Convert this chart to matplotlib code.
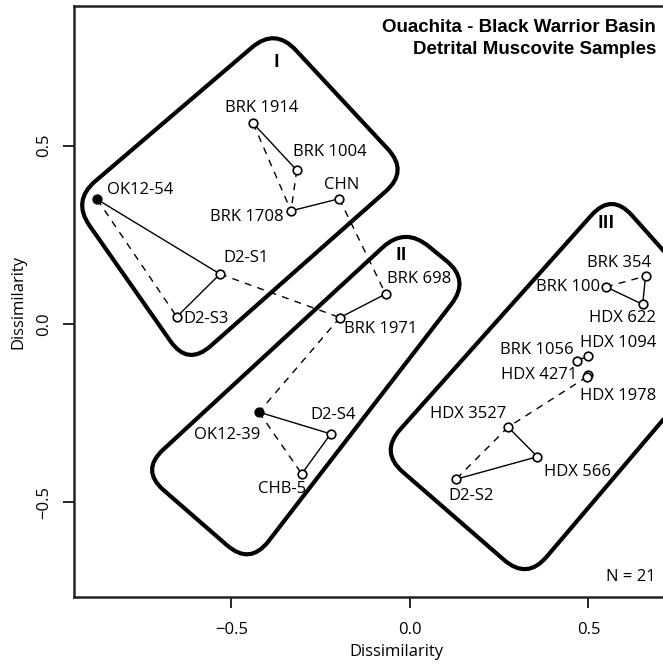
import numpy as np
import matplotlib.pyplot as plt
from matplotlib.path import Path
from matplotlib.patches import PathPatch

plt.rcParams['font.family'] = ['Open Sans', 'DejaVu Sans']

# MDS coordinates of the detrital muscovite samples
samples = ["OK12-54", "D2-S1", "D2-S3", "BRK 1914", "BRK 1004", "BRK 1708",
           "CHN", "BRK 698", "BRK 1971", "OK12-39", "D2-S4", "CHB-5",
           "BRK 354", "BRK 100", "HDX 622", "BRK 1056", "HDX 1094",
           "HDX 4271", "HDX 1978", "HDX 3527", "HDX 566", "D2-S2"]
dim1 = [-0.876, -0.532, -0.653, -0.439, -0.317, -0.333,
        -0.198, -0.068, -0.196, -0.423, -0.222, -0.303,
        0.660, 0.549, 0.652, 0.467, 0.499,
        0.499, 0.496, 0.275, 0.357, 0.129]
dim2 = [0.349, 0.140, 0.020, 0.562, 0.431, 0.317,
        0.351, 0.084, 0.018, -0.247, -0.308, -0.420,
        0.134, 0.104, 0.055, -0.103, -0.090,
        -0.143, -0.148, -0.289, -0.372, -0.435]
filled = ["OK12-54", "OK12-39"]

# nearest neighbours (solid) and second nearest neighbours (dashed)
nearest = [("OK12-54", "D2-S1"), ("D2-S1", "D2-S3"), ("BRK 1914", "BRK 1004"),
           ("BRK 1708", "CHN"), ("BRK 698", "BRK 1971"), ("OK12-39", "D2-S4"),
           ("D2-S4", "CHB-5"), ("BRK 100", "HDX 622"), ("HDX 622", "BRK 354"),
           ("BRK 1056", "HDX 1094"), ("HDX 4271", "HDX 1978"),
           ("HDX 3527", "HDX 566"), ("HDX 566", "D2-S2")]
second = [("OK12-54", "D2-S3"), ("BRK 1914", "BRK 1708"), ("BRK 1004", "BRK 1708"),
          ("CHN", "BRK 698"), ("D2-S1", "BRK 1971"), ("BRK 1971", "OK12-39"),
          ("OK12-39", "CHB-5"), ("BRK 100", "BRK 354"), ("HDX 1978", "HDX 3527"),
          ("HDX 3527", "D2-S2")]

# group outlines (corner points before rounding)
group_names = ["I", "II", "III"]
group_corners = [
    [(-0.378, 0.830), (-0.004, 0.428), (-0.622, -0.118), (-0.946, 0.345)],
    [(-0.014, 0.272), (0.168, 0.123), (-0.448, -0.676), (-0.754, -0.410)],
    [(0.565, 0.368), (0.916, -0.025), (0.328, -0.717), (-0.084, -0.359)],
]
group_label_xy = [(-0.375, 0.735), (-0.023, 0.193), (0.549, 0.282)]

# label offsets in pixels (text centre relative to the point)
label_offset = {
    "OK12-54": (43, 9), "D2-S1": (26, 16), "D2-S3": (29, -2),
    "BRK 1914": (8, 15), "BRK 1004": (33, 18), "BRK 1708": (-44, -6),
    "CHN": (2, 14), "BRK 698": (33, 15), "BRK 1971": (41, -11),
    "OK12-39": (-32, -23), "D2-S4": (2, 19), "CHB-5": (-20, -15),
    "BRK 354": (-26, 13), "BRK 100": (-38, 0), "HDX 622": (-20, -14),
    "BRK 1056": (-40, 11), "HDX 1094": (30, 13), "HDX 4271": (-49, 0),
    "HDX 1978": (31, -19), "HDX 3527": (-40, 13), "HDX 566": (40, -15),
    "D2-S2": (15, -17),
}


def rounded_outline(corners, r):
    corners = np.asarray(corners, dtype=float)
    n = len(corners)
    verts, codes = [], []
    for i in range(n):
        v = corners[i]
        prev_pt = corners[i - 1]
        next_pt = corners[(i + 1) % n]
        d1 = (prev_pt - v) / np.hypot(*(prev_pt - v))
        d2 = (next_pt - v) / np.hypot(*(next_pt - v))
        a = v + d1 * r
        b = v + d2 * r
        verts.append(a)
        codes.append(Path.MOVETO if i == 0 else Path.LINETO)
        verts += [v, b]
        codes += [Path.CURVE3, Path.CURVE3]
    verts.append(verts[0])
    codes.append(Path.CLOSEPOLY)
    return Path(verts, codes)


pos = {s: (x, y) for s, x, y in zip(samples, dim1, dim2)}

fig = plt.figure(figsize=(6.63, 6.66), dpi=100)
ax = fig.add_axes([74 / 663, 69 / 666, 644 / 663, 591 / 666])
ax.set_xlim(-0.941, 0.863)
ax.set_ylim(-0.765, 0.891)

for corners in group_corners:
    ax.add_patch(PathPatch(rounded_outline(corners, 0.085), facecolor="none",
                           edgecolor="black", lw=3.0, zorder=1))
for name, (gx, gy) in zip(group_names, group_label_xy):
    ax.text(gx, gy, name, ha="center", va="center", fontsize=12.5,
            weight="bold", zorder=4)

for a, b in nearest:
    ax.plot([pos[a][0], pos[b][0]], [pos[a][1], pos[b][1]], color="black",
            lw=1.0, zorder=2)
for a, b in second:
    ax.plot([pos[a][0], pos[b][0]], [pos[a][1], pos[b][1]], color="black",
            lw=1.0, ls=(0, (5, 4.5)), zorder=2)

for s in samples:
    x, y = pos[s]
    face = "black" if s in filled else "white"
    ax.plot(x, y, marker="o", ms=6.2, mfc=face, mec="black", mew=1.2, zorder=3)
    ax.annotate(s, (x, y), xytext=label_offset[s], textcoords="offset pixels",
                ha="center", va="center", fontsize=12, zorder=4)

ax.text(0.689, -0.709, "N = 21", ha="right", va="center", fontsize=12)

fig.text(656 / 663, 1 - 28 / 666, "Ouachita - Black Warrior Basin",
         family="Liberation Sans", weight="bold", fontsize=13.5,
         ha="right", va="center")
fig.text(656 / 663, 1 - 49 / 666, "Detrital Muscovite Samples",
         family="Liberation Sans", weight="bold", fontsize=13.5,
         ha="right", va="center")

ax.set_xticks([-0.5, 0.0, 0.5])
ax.set_yticks([-0.5, 0.0, 0.5])
ax.set_xticklabels(["\u22120.5", "0.0", "0.5"])
ax.set_yticklabels(["\u22120.5", "0.0", "0.5"], rotation=90, va="center")
ax.tick_params(direction="out", length=8, width=1.2, labelsize=12, pad=10)
ax.tick_params(axis="y", pad=8)
for side in ["left", "bottom", "top", "right"]:
    ax.spines[side].set_linewidth(1.8)
    ax.spines[side].set_color("#222222")

ax.set_xlabel("Dissimilarity", fontsize=12)
ax.set_ylabel("Dissimilarity", fontsize=12)
ax.xaxis.set_label_coords(0.5, -0.079)
ax.yaxis.set_label_coords(-48 / 644, 0.5)

fig.savefig("out.png", dpi=100)
